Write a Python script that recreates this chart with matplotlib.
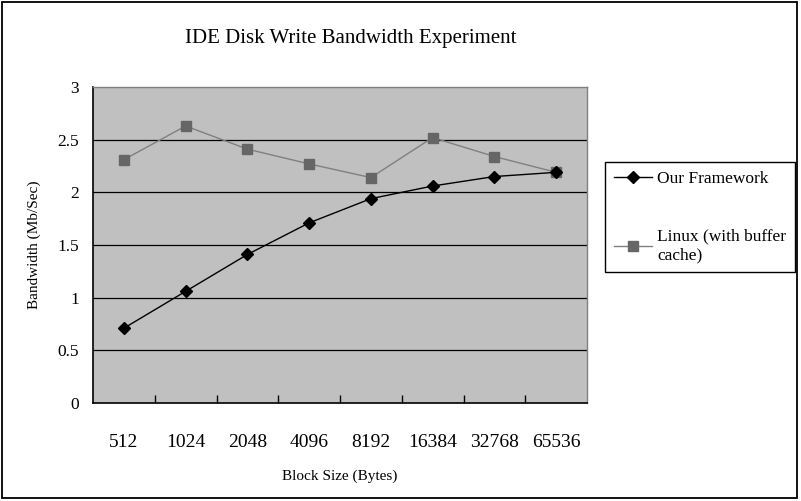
import matplotlib
matplotlib.use('Agg')
import matplotlib.pyplot as plt
from matplotlib.patches import Rectangle

plt.rcParams['font.family'] = ['Liberation Serif', 'DejaVu Serif']

block_sizes = ['512', '1024', '2048', '4096', '8192', '16384', '32768', '65536']
our_framework = [0.71, 1.06, 1.41, 1.71, 1.94, 2.06, 2.15, 2.19]
linux_cache = [2.31, 2.63, 2.41, 2.27, 2.14, 2.52, 2.34, 2.19]
y_ticks = [0, 0.5, 1, 1.5, 2, 2.5, 3]
y_ticklabels = ['0', '0.5', '1', '1.5', '2', '2.5', '3']

fig = plt.figure(figsize=(8.01, 5.01), dpi=100)
fig.patch.set_facecolor('white')
# outer chart frame
fig.patches.append(Rectangle((0.003, 0.006), 0.992, 0.99, transform=fig.transFigure,
                             fill=False, edgecolor='black', linewidth=1.3))

ax = fig.add_axes([93 / 801, 98 / 501, 494 / 801, 316 / 501])
ax.set_facecolor('#c0c0c0')
x = list(range(len(block_sizes)))

for y in y_ticks[1:-1]:
    ax.axhline(y, color='black', linewidth=0.9, zorder=1)

ax.plot(x, our_framework, color='black', linewidth=1.0, marker='D', markersize=6,
        markerfacecolor='black', markeredgecolor='black', label='Our Framework', zorder=3)
ax.plot(x, linux_cache, color='#808080', linewidth=1.0, marker='s', markersize=7,
        markerfacecolor='#666666', markeredgecolor='#666666',
        label='Linux (with buffer\ncache)', zorder=2)

ax.set_xlim(-0.5, len(block_sizes) - 0.5)
ax.set_ylim(0, 3)
ax.set_xticks(x)
ax.set_xticklabels(block_sizes, fontsize=14)
ax.set_xticks([i + 0.5 for i in x[:-1]], minor=True)
ax.tick_params(axis='x', which='major', length=0, pad=22)
ax.tick_params(axis='x', which='minor', direction='in', length=6, width=1, color='black')
ax.set_yticks(y_ticks)
ax.set_yticklabels(y_ticklabels, fontsize=12.5)
ax.tick_params(axis='y', length=0, pad=10)

for side in ['left', 'bottom']:
    ax.spines[side].set_color('black')
    ax.spines[side].set_linewidth(1.2)
for side in ['top', 'right']:
    ax.spines[side].set_color('#808080')
    ax.spines[side].set_linewidth(1.0)

ax.set_xlabel('Block Size (Bytes)', fontsize=11, labelpad=14)
ax.set_ylabel('Bandwidth (Mb/Sec)', fontsize=11, labelpad=12)
fig.text(351 / 801, 1 - 38 / 501, 'IDE Disk Write Bandwidth Experiment',
         ha='center', va='center', fontsize=15)

leg = ax.legend(loc='center left', bbox_to_anchor=(605 / 801, 1 - 217 / 501),
                bbox_transform=fig.transFigure, fontsize=12.5, frameon=True,
                fancybox=False, edgecolor='black', framealpha=1, handlelength=2.2,
                handletextpad=0.3, labelspacing=2.4, borderpad=0.5, borderaxespad=0)
leg.get_frame().set_linewidth(1.0)

fig.savefig('out.png', dpi=100)
